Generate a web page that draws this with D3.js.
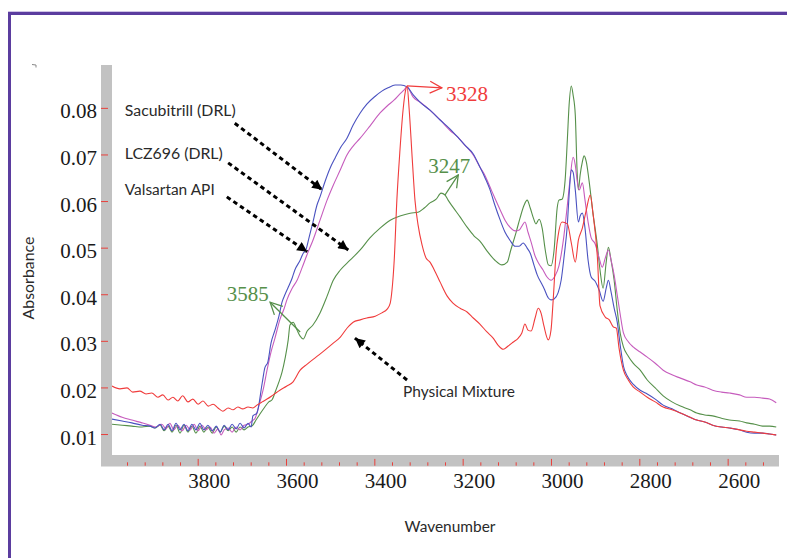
<!DOCTYPE html>
<html><head><meta charset="utf-8">
<script src="https://cdn.jsdelivr.net/npm/d3@7"></script>
<style>body{margin:0;background:#fff}svg{display:block}</style>
</head><body>
<svg id="c" width="787" height="558"></svg>
<script>
// ---------- data (wavenumber cm-1, absorbance) ----------
const seriesNames = ["Sacubitrill (DRL)", "LCZ696 (DRL)", "Valsartan API", "Physical Mixture"];
const yTickValues = [0.01,0.02,0.03,0.04,0.05,0.06,0.07,0.08];
const xMajorTicks = [3800,3600,3400,3200,3000,2800,2600];

const sacubitril = [[3994,0.0132],[3971,0.0128],[3949,0.0124],[3926,0.0119],[3908,0.0117],[3897,0.0113],[3885,0.0121],[3876,0.0109],[3867,0.0121],[3858,0.0107],[3849,0.0123],[3840,0.0109],[3831,0.0121],[3822,0.0107],[3813,0.0121],[3804,0.0109],[3795,0.0123],[3786,0.0109],[3777,0.0119],[3767,0.0107],[3758,0.0117],[3749,0.0104],[3740,0.0119],[3731,0.0109],[3722,0.0121],[3713,0.0111],[3704,0.0123],[3695,0.0113],[3686,0.0123],[3679,0.0115],[3675,0.0139],[3666,0.0145],[3654,0.0209],[3648,0.0242],[3641,0.0255],[3634,0.0295],[3625,0.0323],[3616,0.0353],[3609,0.0383],[3602,0.0400],[3595,0.0415],[3586,0.0435],[3580,0.0452],[3568,0.0473],[3561,0.0488],[3555,0.0495],[3548,0.0521],[3539,0.0555],[3530,0.0591],[3523,0.0609],[3512,0.0641],[3500,0.0671],[3489,0.0692],[3477,0.0714],[3462,0.0735],[3448,0.0763],[3432,0.0789],[3417,0.0808],[3398,0.0825],[3383,0.0836],[3369,0.0843],[3353,0.0849],[3340,0.0849],[3326,0.0845],[3312,0.0828],[3296,0.0812],[3274,0.0795],[3251,0.0774],[3229,0.0755],[3211,0.0737],[3195,0.0720],[3176,0.0701],[3161,0.0673],[3149,0.0649],[3138,0.0624],[3127,0.0591],[3115,0.0559],[3104,0.0533],[3093,0.0516],[3081,0.0503],[3072,0.0503],[3063,0.0510],[3054,0.0499],[3047,0.0488],[3038,0.0461],[3031,0.0441],[3022,0.0424],[3016,0.0413],[3006,0.0392],[3000,0.0388],[2993,0.0390],[2984,0.0403],[2977,0.0430],[2970,0.0484],[2963,0.0549],[2959,0.0613],[2954,0.0667],[2950,0.0662],[2945,0.0624],[2938,0.0555],[2934,0.0568],[2929,0.0574],[2923,0.0542],[2916,0.0473],[2909,0.0437],[2900,0.0428],[2891,0.0409],[2882,0.0385],[2875,0.0413],[2870,0.0430],[2864,0.0405],[2857,0.0370],[2850,0.0340],[2843,0.0289],[2836,0.0246],[2827,0.0224],[2814,0.0207],[2798,0.0194],[2782,0.0186],[2764,0.0175],[2746,0.0162],[2726,0.0154],[2707,0.0145],[2685,0.0136],[2670,0.0130],[2652,0.0126],[2634,0.0119],[2614,0.0115],[2596,0.0113],[2573,0.0109],[2557,0.0104],[2539,0.0102],[2521,0.0102],[2505,0.0100],[2490,0.0098]];

const lcz696 = [[3994,0.0145],[3971,0.0136],[3949,0.0130],[3926,0.0124],[3908,0.0119],[3895,0.0115],[3881,0.0121],[3872,0.0111],[3863,0.0123],[3854,0.0109],[3845,0.0119],[3835,0.0107],[3826,0.0119],[3817,0.0109],[3808,0.0121],[3799,0.0107],[3790,0.0119],[3781,0.0109],[3772,0.0115],[3763,0.0102],[3754,0.0111],[3747,0.0098],[3740,0.0109],[3731,0.0113],[3722,0.0104],[3713,0.0115],[3704,0.0109],[3695,0.0119],[3686,0.0121],[3677,0.0128],[3670,0.0134],[3661,0.0162],[3652,0.0194],[3643,0.0237],[3634,0.0276],[3625,0.0306],[3614,0.0345],[3604,0.0370],[3598,0.0388],[3586,0.0413],[3575,0.0430],[3564,0.0456],[3552,0.0486],[3539,0.0516],[3523,0.0559],[3507,0.0602],[3493,0.0634],[3477,0.0667],[3462,0.0699],[3448,0.0718],[3432,0.0735],[3410,0.0761],[3387,0.0789],[3371,0.0804],[3355,0.0817],[3342,0.0830],[3333,0.0838],[3326,0.0845],[3312,0.0823],[3296,0.0812],[3274,0.0795],[3251,0.0774],[3229,0.0752],[3211,0.0737],[3195,0.0720],[3176,0.0699],[3161,0.0673],[3149,0.0654],[3138,0.0630],[3127,0.0606],[3115,0.0581],[3104,0.0559],[3093,0.0544],[3081,0.0536],[3072,0.0538],[3066,0.0546],[3059,0.0555],[3052,0.0533],[3045,0.0512],[3036,0.0482],[3027,0.0465],[3018,0.0452],[3009,0.0437],[3000,0.0430],[2991,0.0439],[2982,0.0461],[2972,0.0516],[2963,0.0591],[2957,0.0645],[2950,0.0694],[2945,0.0677],[2941,0.0645],[2936,0.0624],[2929,0.0639],[2923,0.0602],[2916,0.0555],[2909,0.0521],[2900,0.0508],[2891,0.0478],[2884,0.0458],[2877,0.0478],[2870,0.0495],[2864,0.0473],[2857,0.0441],[2850,0.0398],[2843,0.0355],[2836,0.0317],[2825,0.0298],[2814,0.0287],[2798,0.0276],[2782,0.0265],[2764,0.0252],[2746,0.0237],[2726,0.0227],[2707,0.0220],[2685,0.0212],[2670,0.0205],[2652,0.0201],[2634,0.0194],[2614,0.0190],[2596,0.0188],[2573,0.0184],[2557,0.0179],[2539,0.0179],[2521,0.0177],[2505,0.0175],[2490,0.0167]];

const valsartan = [[3994,0.0121],[3971,0.0119],[3949,0.0117],[3926,0.0115],[3908,0.0117],[3897,0.0113],[3885,0.0119],[3876,0.0107],[3867,0.0117],[3858,0.0104],[3849,0.0119],[3840,0.0102],[3831,0.0119],[3822,0.0104],[3813,0.0117],[3804,0.0102],[3795,0.0117],[3786,0.0104],[3777,0.0115],[3767,0.0102],[3758,0.0115],[3749,0.0104],[3740,0.0117],[3731,0.0107],[3722,0.0115],[3713,0.0104],[3704,0.0115],[3695,0.0109],[3686,0.0115],[3677,0.0117],[3668,0.0130],[3659,0.0143],[3648,0.0158],[3639,0.0169],[3632,0.0173],[3623,0.0194],[3616,0.0212],[3609,0.0233],[3602,0.0263],[3595,0.0302],[3591,0.0334],[3584,0.0340],[3575,0.0323],[3568,0.0310],[3561,0.0304],[3552,0.0321],[3539,0.0334],[3523,0.0360],[3507,0.0396],[3493,0.0430],[3477,0.0452],[3455,0.0473],[3432,0.0495],[3410,0.0521],[3387,0.0542],[3364,0.0559],[3342,0.0568],[3319,0.0574],[3301,0.0576],[3287,0.0585],[3274,0.0596],[3260,0.0604],[3249,0.0617],[3240,0.0613],[3233,0.0602],[3222,0.0587],[3206,0.0566],[3190,0.0544],[3174,0.0525],[3161,0.0514],[3145,0.0493],[3127,0.0473],[3111,0.0463],[3099,0.0469],[3091,0.0495],[3079,0.0533],[3070,0.0564],[3061,0.0591],[3054,0.0602],[3047,0.0585],[3040,0.0564],[3034,0.0551],[3027,0.0561],[3020,0.0542],[3013,0.0495],[3006,0.0463],[3000,0.0461],[2993,0.0495],[2986,0.0585],[2982,0.0602],[2975,0.0604],[2968,0.0645],[2963,0.0731],[2959,0.0806],[2954,0.0847],[2950,0.0828],[2945,0.0785],[2941,0.0667],[2938,0.0624],[2934,0.0656],[2929,0.0684],[2925,0.0697],[2920,0.0684],[2914,0.0645],[2905,0.0574],[2895,0.0505],[2889,0.0452],[2882,0.0413],[2875,0.0469],[2870,0.0501],[2864,0.0473],[2857,0.0430],[2850,0.0366],[2843,0.0315],[2836,0.0287],[2825,0.0267],[2814,0.0252],[2798,0.0237],[2782,0.0216],[2764,0.0199],[2746,0.0182],[2726,0.0169],[2707,0.0160],[2685,0.0152],[2670,0.0145],[2652,0.0141],[2634,0.0139],[2614,0.0134],[2596,0.0130],[2573,0.0128],[2557,0.0124],[2539,0.0121],[2521,0.0117],[2505,0.0117],[2490,0.0115]];

const physicalMixture = [[3994,0.0203],[3976,0.0197],[3960,0.0199],[3947,0.0190],[3931,0.0192],[3917,0.0186],[3904,0.0188],[3890,0.0179],[3879,0.0184],[3867,0.0173],[3856,0.0179],[3845,0.0171],[3834,0.0182],[3822,0.0169],[3811,0.0175],[3799,0.0164],[3788,0.0171],[3776,0.0160],[3765,0.0164],[3754,0.0156],[3743,0.0149],[3731,0.0156],[3720,0.0152],[3709,0.0158],[3698,0.0154],[3686,0.0158],[3675,0.0156],[3666,0.0162],[3654,0.0169],[3643,0.0175],[3629,0.0184],[3614,0.0194],[3598,0.0203],[3584,0.0212],[3568,0.0237],[3552,0.0250],[3532,0.0265],[3512,0.0280],[3493,0.0295],[3477,0.0308],[3462,0.0327],[3448,0.0340],[3432,0.0345],[3417,0.0349],[3398,0.0353],[3383,0.0360],[3371,0.0368],[3364,0.0381],[3360,0.0409],[3355,0.0473],[3349,0.0602],[3342,0.0709],[3335,0.0795],[3328,0.0843],[3326,0.0847],[3321,0.0795],[3314,0.0688],[3308,0.0602],[3301,0.0549],[3292,0.0506],[3283,0.0478],[3274,0.0469],[3262,0.0448],[3251,0.0426],[3235,0.0396],[3222,0.0381],[3206,0.0370],[3190,0.0362],[3176,0.0349],[3161,0.0336],[3145,0.0319],[3131,0.0306],[3120,0.0291],[3108,0.0282],[3097,0.0289],[3086,0.0297],[3074,0.0306],[3066,0.0317],[3059,0.0336],[3052,0.0323],[3045,0.0321],[3036,0.0349],[3029,0.0370],[3022,0.0358],[3016,0.0332],[3006,0.0302],[3000,0.0323],[2995,0.0388],[2988,0.0495],[2984,0.0525],[2975,0.0555],[2963,0.0551],[2954,0.0510],[2945,0.0469],[2938,0.0516],[2929,0.0542],[2920,0.0581],[2911,0.0613],[2905,0.0574],[2895,0.0480],[2889,0.0375],[2877,0.0351],[2868,0.0345],[2859,0.0330],[2852,0.0327],[2846,0.0285],[2836,0.0237],[2825,0.0216],[2814,0.0201],[2798,0.0190],[2782,0.0179],[2764,0.0169],[2746,0.0158],[2726,0.0152],[2707,0.0145],[2685,0.0136],[2670,0.0130],[2652,0.0126],[2634,0.0119],[2614,0.0115],[2596,0.0113],[2573,0.0109],[2557,0.0106],[2539,0.0104],[2521,0.0102],[2505,0.0100],[2490,0.0098]];

// annotation peaks
const peakLabels = ["3328", "3247", "3585"];

// ---------- layout ----------
const svg = d3.select("#c");
const plot = {left:112, right:778, top:65, bottom:455};
const x = d3.scaleLinear().domain([3994, 2486]).range([plot.left, plot.right]);
const y = d3.scaleLinear().domain([0.0055, 0.0892]).range([plot.bottom, plot.top]);

const SERIF = "'Liberation Serif','Times New Roman',serif";
const SANS = "Lato, 'Open Sans', sans-serif";
const colors = {sac:"#4a52c0", lcz:"#c65cbd", val:"#56904a", pm:"#f03c3c"};

// frame
svg.append("rect").attr("x",8).attr("y",11).attr("width",779).attr("height",1).attr("fill","#cfc4e6");
svg.append("rect").attr("x",8).attr("y",12).attr("width",779).attr("height",3).attr("fill","#5b3d9f");
svg.append("rect").attr("x",8).attr("y",12).attr("width",3).attr("height",546).attr("fill","#5b3d9f");
svg.append("path").attr("d","M32,64.5 L36,65 L36,67.5").attr("fill","none").attr("stroke","#888").attr("stroke-width",1);

// grey axis bars
svg.append("rect").attr("x",101).attr("y",65).attr("width",11).attr("height",401).attr("fill","#c2c2c2");
svg.append("rect").attr("x",101).attr("y",455).attr("width",678).attr("height",11.5).attr("fill","#c2c2c2");

// defs
const defs = svg.append("defs");
defs.append("clipPath").attr("id","clip").append("rect")
  .attr("x",plot.left).attr("y",plot.top).attr("width",plot.right-plot.left).attr("height",plot.bottom-plot.top);
defs.append("marker").attr("id","ah").attr("viewBox","0 0 10 10").attr("refX",10).attr("refY",5)
  .attr("markerWidth",12).attr("markerHeight",10).attr("markerUnits","userSpaceOnUse").attr("orient","auto")
  .append("path").attr("d","M0,0 L10,5 L0,10 z").attr("fill","#000");
function openMarker(id, col){
  defs.append("marker").attr("id",id).attr("viewBox","0 0 14 14").attr("refX",13).attr("refY",7)
    .attr("markerWidth",14).attr("markerHeight",14).attr("markerUnits","userSpaceOnUse").attr("orient","auto")
    .append("path").attr("d","M1,1 L13,7 L1,13").attr("fill","none").attr("stroke",col).attr("stroke-width",1.3);
}
openMarker("oaR", colors.pm);
openMarker("oaG", colors.val);

// y axis
const yAxis = d3.axisLeft(y).tickValues(yTickValues).tickSize(7).tickPadding(4).tickFormat(d3.format(".2f"));
svg.append("g").attr("transform","translate(108,0)").call(yAxis)
  .call(g=>g.select(".domain").remove())
  .call(g=>g.selectAll("line").attr("stroke","#e8413c"))
  .call(g=>g.selectAll("text").attr("font-family",SERIF).attr("font-size",21).attr("fill","#1a1a1a").attr("dy","0.48em"));

// x axis ticks
const xMinorTicks = d3.range(3960, 2500, -40).filter(v=>!xMajorTicks.includes(v));
svg.append("g").attr("transform","translate(0,465.7)")
  .call(d3.axisTop(x).tickValues(xMinorTicks).tickSize(3.4).tickFormat(""))
  .call(g=>g.select(".domain").remove())
  .call(g=>g.selectAll("line").attr("stroke","#e8413c"));
svg.append("g").attr("transform","translate(0,465.7)")
  .call(d3.axisTop(x).tickValues(xMajorTicks).tickSize(6.8).tickFormat(""))
  .call(g=>g.select(".domain").remove())
  .call(g=>g.selectAll("line").attr("stroke","#e8413c"));
svg.append("g").attr("transform","translate(0,466)")
  .call(d3.axisBottom(x).tickValues(xMajorTicks).tickSize(0).tickPadding(7).tickFormat(d3.format("d")))
  .call(g=>g.select(".domain").remove())
  .call(g=>g.selectAll("text").attr("font-family",SERIF).attr("font-size",21).attr("fill","#1a1a1a").attr("dx",11));

// curves
const line = d3.line().x(d=>x(d[0])).y(d=>y(d[1])).curve(d3.curveMonotoneX);
const g = svg.append("g").attr("clip-path","url(#clip)");
[[valsartan,colors.val],[lcz696,colors.lcz],[sacubitril,colors.sac],[physicalMixture,colors.pm]].forEach(([data,col])=>{
  g.append("path").attr("d",line(data)).attr("fill","none").attr("stroke",col).attr("stroke-width",1.1);
});

// fit text helper
function fitText(sel, target){
  const w = sel.node().getComputedTextLength();
  const fs = parseFloat(sel.attr("font-size"));
  sel.attr("font-size", fs*target/w);
}

// series labels with dotted arrows
const labels = [
  {name:seriesNames[0], tx:3965, ty:0.0782, w:111, a:[3716,0.0767,3518,0.0624]},
  {name:seriesNames[1], tx:3965, ty:0.0691, w:98,  a:[3731,0.0682,3459,0.0495]},
  {name:seriesNames[2], tx:3965, ty:0.0613, w:90,  a:[3734,0.0609,3552,0.0491]},
  {name:seriesNames[3], tx:3335, ty:0.0179, w:112, a:[3326,0.0216,3444,0.0306]}
];
labels.forEach(l=>{
  const t = svg.append("text").attr("x",x(l.tx)).attr("y",y(l.ty)).attr("font-family",SANS)
    .attr("font-size",15).attr("fill","#2a2a2a").text(l.name);
  fitText(t, l.w);
  svg.append("line").attr("x1",x(l.a[0])).attr("y1",y(l.a[1])).attr("x2",x(l.a[2])).attr("y2",y(l.a[3]))
    .attr("stroke","#000").attr("stroke-width",3).attr("stroke-dasharray","4.5,3.5").attr("marker-end","url(#ah)");
});

// peak annotations
const peaks = [
  {label:peakLabels[0], col:colors.pm, m:"oaR", a:[3326,0.0847,3247,0.0843], tx:3238, ty:0.0814},
  {label:peakLabels[1], col:colors.val, m:"oaG", a:[3240,0.0613,3210,0.0656], tx:3278, ty:0.0660},
  {label:peakLabels[2], col:colors.val, m:"oaG", a:[3568,0.0319,3636,0.0383], tx:3734, ty:0.0385}
];
peaks.forEach(p=>{
  svg.append("line").attr("x1",x(p.a[0])).attr("y1",y(p.a[1])).attr("x2",x(p.a[2])).attr("y2",y(p.a[3]))
    .attr("stroke",p.col).attr("stroke-width",1.3).attr("marker-end",`url(#${p.m})`);
  svg.append("text").attr("x",x(p.tx)).attr("y",y(p.ty)).attr("font-family",SERIF).attr("font-size",21)
    .attr("fill",p.col).text(p.label);
});

// axis titles
const xt = svg.append("text").attr("x",450).attr("y",532).attr("text-anchor","middle").attr("font-family",SANS)
  .attr("font-size",15).attr("fill","#2a2a2a").text("Wavenumber");
fitText(xt, 91);
const yt = svg.append("text").attr("transform","translate(34,278) rotate(-90)").attr("text-anchor","middle")
  .attr("font-family",SANS).attr("font-size",15).attr("fill","#2a2a2a").text("Absorbance");
fitText(yt, 83);
</script>
</body></html>
